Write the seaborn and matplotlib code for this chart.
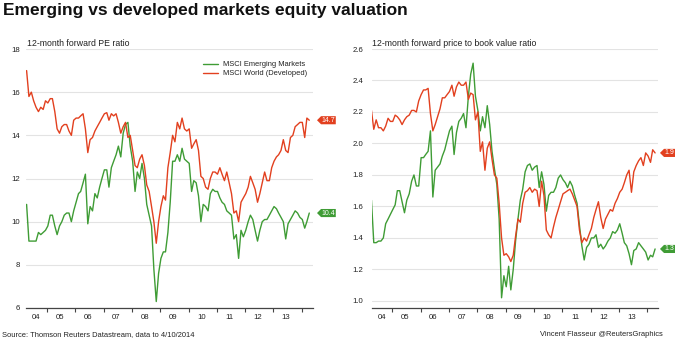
import numpy as np
import pandas as pd
import matplotlib
matplotlib.use("Agg")
import matplotlib.pyplot as plt
from matplotlib.path import Path
from matplotlib.transforms import blended_transform_factory
import seaborn as sns

# ---------------- data ----------------
TITLE = "Emerging vs developed markets equity valuation"
LEFT_TITLE = "12-month forward PE ratio"
RIGHT_TITLE = "12-month forward price to book value ratio"
SERIES = ["MSCI Emerging Markets", "MSCI World (Developed)"]
COLORS = ["#3f9c35", "#e2401f"]
YEAR_LABELS = ["04", "05", "06", "07", "08", "09", "10", "11", "12", "13"]
SOURCE = "Source: Thomson Reuters Datastream, data to 4/10/2014"
CREDIT = "Vincent Flasseur @ReutersGraphics"
PE_END_LABELS = ["10.4", "14.7"]
PB_END_LABELS = ["1.3", "1.9"]

# monthly readings, Apr 2004 .. Apr 2014
pe_world = [
    17.0, 15.8, 16.0, 15.6, 15.3, 15.1, 15.3, 15.2, 15.6,
    15.5, 15.7, 15.7, 15.1, 14.3, 14.1, 14.4, 14.5, 14.5, 14.2, 14.0, 14.7,
    14.8, 14.8, 14.9, 15.0, 14.3, 13.2, 13.8, 13.9, 14.2, 14.4, 14.6, 14.8,
    15.0, 15.05, 14.7, 15.0, 14.9, 15.0, 14.6, 14.1, 14.4, 14.6, 13.9, 14.0,
    13.3, 12.6, 12.5, 12.9, 13.1, 12.6, 11.7, 11.4, 10.7, 10.0, 9.0, 10.0,
    10.7, 11.2, 11.0, 12.5, 13.2, 14.0, 13.7, 14.6, 14.3, 14.8, 14.3, 14.2,
    14.3, 13.4, 13.6, 13.8, 13.3, 12.1, 12.0, 11.6, 11.5, 12.0, 12.3, 12.3,
    12.2, 12.5, 12.2, 11.9, 12.3, 11.8, 11.3, 10.4, 10.5, 10.0, 10.9, 11.1,
    11.3, 11.6, 12.1, 11.8, 11.5, 10.9, 11.3, 11.8, 12.3, 11.9, 11.9, 12.5,
    12.8, 13.0, 13.1, 13.3, 13.8, 13.3, 13.2, 13.9, 14.0, 14.4, 14.5, 14.6,
    14.6, 13.9, 14.8, 14.7,
]
pe_em = [
    10.8, 9.1, 9.1, 9.1, 9.1, 9.5, 9.4, 9.5, 9.6,
    9.8, 10.3, 10.3, 9.8, 9.4, 9.8, 10.0, 10.3, 10.4, 10.4, 10.0, 10.5,
    10.9, 11.3, 11.4, 11.8, 12.2, 9.9, 10.7, 10.5, 11.3, 11.1, 11.6, 12.0,
    12.4, 12.4, 11.6, 12.5, 12.8, 13.1, 13.5, 13.0, 14.1, 14.5, 14.6, 13.5,
    12.8, 11.4, 12.3, 12.0, 12.7, 12.0, 10.8, 10.3, 9.8, 7.8, 6.3, 7.6,
    8.3, 8.6, 8.6, 9.5, 10.9, 12.8, 12.8, 13.1, 12.8, 13.4, 12.9, 12.8,
    12.7, 11.4, 11.9, 11.8, 11.2, 10.0, 10.8, 10.7, 10.5, 11.3, 11.5, 11.4,
    11.4, 11.1, 10.9, 10.8, 10.5, 10.4, 10.3, 9.2, 9.4, 8.3, 9.6, 9.3,
    9.6, 10.0, 10.3, 10.1, 9.6, 9.1, 9.6, 10.0, 10.1, 10.1, 10.3, 10.5,
    10.7, 10.6, 10.4, 10.2, 10.0, 9.2, 9.9, 10.1, 10.3, 10.5, 10.4, 10.2,
    10.1, 9.7, 10.0, 10.4,
]
pb_world = [
    2.21, 2.09, 2.15, 2.10, 2.10, 2.08, 2.11, 2.16, 2.14,
    2.14, 2.18, 2.17, 2.15, 2.12, 2.15, 2.17, 2.18, 2.21, 2.21, 2.20, 2.27,
    2.31, 2.34, 2.34, 2.35, 2.19, 2.08, 2.12, 2.17, 2.22, 2.29, 2.29, 2.31,
    2.33, 2.37, 2.30, 2.36, 2.39, 2.37, 2.37, 2.39, 2.28, 2.32, 2.31, 2.15,
    2.20, 1.95, 2.01, 1.83, 1.97, 2.01, 1.90, 1.80, 1.78, 1.62, 1.40, 1.29,
    1.30, 1.28, 1.25, 1.29, 1.41, 1.52, 1.50, 1.62, 1.69, 1.70, 1.72, 1.69,
    1.71, 1.70, 1.60, 1.76, 1.67, 1.45, 1.42, 1.40, 1.47, 1.53, 1.58, 1.63,
    1.68, 1.69, 1.70, 1.71, 1.68, 1.64, 1.60, 1.45, 1.37, 1.40, 1.38, 1.42,
    1.46, 1.53, 1.58, 1.63, 1.53, 1.46, 1.52, 1.55, 1.58, 1.57, 1.62, 1.65,
    1.69, 1.71, 1.75, 1.80, 1.83, 1.69, 1.82, 1.86, 1.89, 1.91, 1.86, 1.94,
    1.92, 1.88, 1.96, 1.94,
]
pb_em = [
    1.64, 1.37, 1.37, 1.38, 1.38, 1.40, 1.49, 1.52, 1.55,
    1.58, 1.61, 1.70, 1.70, 1.63, 1.56, 1.64, 1.68, 1.76, 1.80, 1.73, 1.73,
    1.91, 1.91, 1.93, 1.95, 2.08, 1.66, 1.83, 1.85, 1.87, 1.92, 1.96, 2.02,
    2.08, 2.11, 1.93, 2.07, 2.14, 2.16, 2.19, 2.10, 2.30, 2.44, 2.51, 2.30,
    2.21, 2.08, 2.17, 2.10, 2.24, 2.12, 1.95, 1.84, 1.74, 1.52, 1.02, 1.16,
    1.09, 1.22, 1.07, 1.20, 1.38, 1.52, 1.64, 1.71, 1.82, 1.86, 1.87, 1.83,
    1.85, 1.86, 1.72, 1.82, 1.74, 1.57, 1.67, 1.69, 1.69, 1.72, 1.78, 1.80,
    1.77, 1.75, 1.72, 1.76, 1.73, 1.67, 1.62, 1.48, 1.35, 1.26, 1.34, 1.36,
    1.40, 1.40, 1.42, 1.34, 1.36, 1.33, 1.35, 1.38, 1.40, 1.44, 1.43, 1.45,
    1.49, 1.43, 1.37, 1.35, 1.30, 1.23, 1.32, 1.33, 1.37, 1.35, 1.33, 1.31,
    1.26, 1.29, 1.28, 1.33,
]

dates = pd.date_range("2004-04-09", periods=len(pe_world), freq=pd.DateOffset(months=1))
year = dates.year + (dates.dayofyear - 1) / 365.25


def long_frame(em, world):
    return pd.DataFrame({
        "year": np.tile(np.asarray(year), 2),
        "value": np.concatenate([em, world]),
        "series": np.repeat(SERIES, len(year)),
    })


df_pe = long_frame(pe_em, pe_world)
df_pb = long_frame(pb_em, pb_world)

# ---------------- style ----------------
sns.set_theme(style="white")
plt.rcParams["font.family"] = ["Liberation Sans", "DejaVu Sans"]

W, H = 692, 338
fig = plt.figure(figsize=(W / 100, H / 100), dpi=100)
fig.patch.set_facecolor("white")

bottom = 1 - 308 / H
height = (308 - 49) / H
ax1 = fig.add_axes([26 / W, bottom, 287 / W, height])
ax2 = fig.add_axes([371.7 / W, bottom, 286 / W, height])

TXT = "#222222"
FS_TICK = 5.6


def tag_box(x0, y0, width, height, mutation_size):
    pad = 0.08 * mutation_size
    x0 -= pad
    y0 -= pad
    x1 = x0 + width + 2 * pad
    y1 = y0 + height + 2 * pad
    tip = (y1 - y0) * 0.5
    verts = [(x0, y0), (x1, y0), (x1, y1), (x0, y1), (x0 - tip, (y0 + y1) / 2), (x0, y0)]
    return Path(verts, closed=True)


def draw(ax, df, xlim, ylim, yticks, yfmt, ypad, label_first, end_labels, tag_x):
    sns.lineplot(data=df, x="year", y="value", hue="series", hue_order=SERIES,
                 palette=COLORS, linewidth=1.0, estimator=None, ax=ax, legend=True)
    handles, labels = ax.get_legend_handles_labels()
    ax.get_legend().remove()
    ax.set_xlim(*xlim)
    ax.set_ylim(*ylim)
    ax.set_xlabel("")
    ax.set_ylabel("")
    ax.set_yticks(yticks)
    ax.set_yticklabels([yfmt.format(v) for v in yticks])
    ax.tick_params(axis="y", length=0, pad=ypad, labelsize=FS_TICK, labelcolor=TXT)
    ax.grid(axis="y", color="#e3e3e3", linewidth=0.8)
    ax.grid(axis="x", visible=False)
    ax.set_axisbelow(True)
    for s in ["left", "right", "top"]:
        ax.spines[s].set_visible(False)
    ax.spines["bottom"].set_color("#444444")
    ax.spines["bottom"].set_linewidth(0.9)
    years = list(range(2005, 2015))
    ax.set_xticks(years)
    ax.set_xticklabels([""] * len(years))
    ax.tick_params(axis="x", which="major", length=2.6, width=0.8, color="#444444",
                   direction="out", bottom=True)
    label_pos = [label_first] + [y + 0.45 for y in range(2005, 2014)]
    ax.set_xticks(label_pos, minor=True)
    ax.set_xticklabels(YEAR_LABELS, minor=True)
    ax.tick_params(axis="x", which="minor", length=0, pad=4.2, labelsize=FS_TICK,
                   labelcolor=TXT, bottom=True)
    trans = blended_transform_factory(ax.transAxes, ax.transData)
    for txt, vals, col in zip(end_labels, [df[df.series == s].value.values for s in SERIES], COLORS):
        ax.text(tag_x, vals[-1], txt, transform=trans, ha="left", va="center",
                color="white", fontsize=5.0, clip_on=False,
                bbox=dict(boxstyle=tag_box, fc=col, ec="none"))
    return handles, labels


handles, labels = draw(ax1, df_pe, (2004.25, 2014.40), (6, 18), list(range(6, 19, 2)),
                       "{:.0f}", 4.3, 2004.62, PE_END_LABELS, 1.03)
draw(ax2, df_pb, (2004.28, 2014.36), (0.955, 2.6), [1.0, 1.2, 1.4, 1.6, 1.8, 2.0, 2.2, 2.4, 2.6],
     "{:.1f}", 6.0, 2004.64, PB_END_LABELS, 1.024)

ax1.legend(handles, labels, loc="upper left", bbox_to_anchor=(203 / W, 1 - 61.0 / H),
           bbox_transform=fig.transFigure, frameon=False, fontsize=5.4,
           handlelength=2.0, handletextpad=0.7, labelspacing=0.25,
           borderpad=0, borderaxespad=0, labelcolor=TXT)

fig.text(3 / W, 1 - 15 / H, TITLE, fontsize=12.5, fontweight="bold", color="#111111",
         ha="left", va="baseline")
fig.text(27 / W, 1 - 46.5 / H, LEFT_TITLE, fontsize=6.35, color=TXT, ha="left", va="baseline")
fig.text(372 / W, 1 - 46.5 / H, RIGHT_TITLE, fontsize=6.35, color=TXT, ha="left", va="baseline")
fig.text(2 / W, 1 - 336.5 / H, SOURCE, fontsize=5.4, color=TXT, ha="left", va="baseline")
fig.text(663 / W, 1 - 336.5 / H, CREDIT, fontsize=5.4, color=TXT, ha="right", va="baseline")

fig.savefig("out.png", dpi=100, facecolor="white")
